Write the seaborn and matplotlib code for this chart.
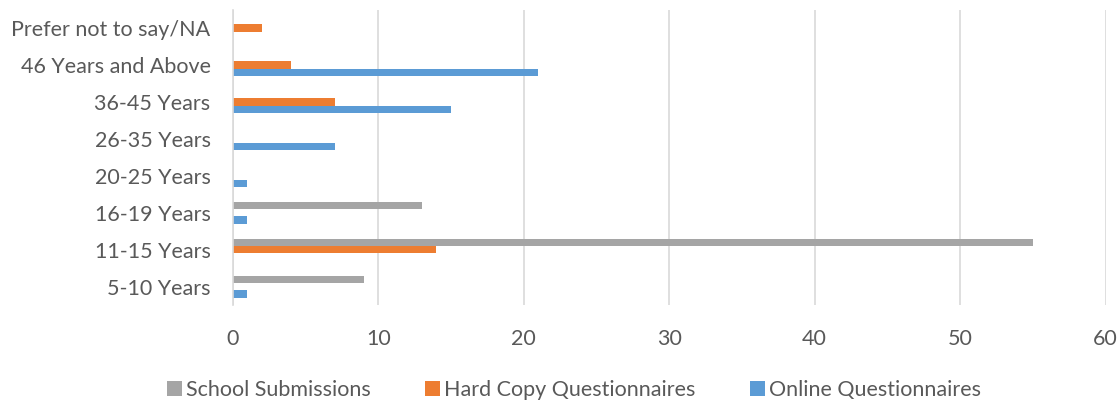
import pandas as pd
import matplotlib
matplotlib.use("Agg")
import matplotlib.pyplot as plt
import seaborn as sns

# categories top to bottom as they appear in the chart
age_groups = ["Prefer not to say/NA", "46 Years and Above", "36-45 Years", "26-35 Years",
              "20-25 Years", "16-19 Years", "11-15 Years", "5-10 Years"]
series_names = ["School Submissions", "Hard Copy Questionnaires", "Online Questionnaires"]
school = [0, 0, 0, 0, 0, 13, 55, 9]
hard_copy = [2, 4, 7, 0, 0, 0, 14, 0]
online = [0, 21, 15, 7, 1, 1, 0, 1]
colors = ["#A5A5A5", "#ED7D31", "#5B9BD5"]
x_ticks = [0, 10, 20, 30, 40, 50, 60]


def build_frame():
    rows = []
    for name, vals in zip(series_names, [school, hard_copy, online]):
        for age, v in zip(age_groups, vals):
            rows.append({"age": age, "source": name, "count": v})
    return pd.DataFrame(rows)


def main():
    df = build_frame()

    sns.set_style("white")
    plt.rcParams["font.family"] = ["Lato", "DejaVu Sans"]

    fig = plt.figure(figsize=(11.19, 4.01), dpi=100)
    ax = fig.add_axes([0.208, 0.239, 0.780, 0.737])

    sns.barplot(data=df, x="count", y="age", hue="source", order=age_groups,
                hue_order=series_names, palette=colors, orient="h", width=0.6,
                saturation=1, linewidth=0, ax=ax, legend=True)

    ax.set_xlim(0, 60)
    ax.set_ylim(7.5, -0.5)
    ax.set_xticks(x_ticks)
    ax.set_xlabel("")
    ax.set_ylabel("")
    ax.xaxis.grid(True, color="#D9D9D9", linewidth=1.2)
    ax.set_axisbelow(True)
    for s in ["top", "right", "bottom"]:
        ax.spines[s].set_visible(False)
    ax.spines["left"].set_color("#D9D9D9")
    ax.spines["left"].set_linewidth(1.2)
    ax.tick_params(axis="both", length=0, labelsize=15.5, colors="#595959")
    ax.tick_params(axis="x", pad=17)
    ax.tick_params(axis="y", pad=16)

    handles, labels = ax.get_legend_handles_labels()
    ax.get_legend().remove()
    fig.legend(handles, labels, loc="lower center", ncol=3, frameon=False,
               bbox_to_anchor=(0.513, -0.045), fontsize=15.5, handlelength=0.7,
               handleheight=0.7, handletextpad=0.2, columnspacing=2.5,
               labelcolor="#595959")

    fig.savefig("out.png", dpi=100)


if __name__ == "__main__":
    main()
